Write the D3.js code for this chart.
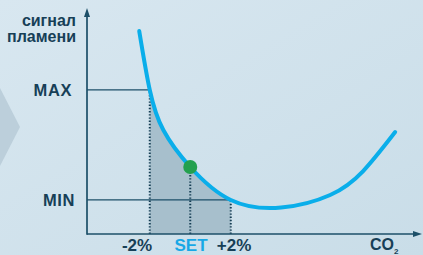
<!DOCTYPE html>
<html>
<head>
<meta charset="utf-8">
<script src="https://cdn.jsdelivr.net/npm/d3@7"></script>
<style>
  html, body { margin: 0; padding: 0; background: #d2e3ec; }
  svg { display: block; }
</style>
</head>
<body>
<div id="chart"></div>
<script>
// CO2 offset from the set point (%), and flame signal (arbitrary units)
var co2 = [-2.52, -2, -1.33, 0, 2, 4.49, 6.91, 8.54, 10.12];
var signal = [90.6, 64.3, 46.4, 29.9, 15.2, 11.8, 17.4, 28.1, 45.5];

var levelNames = ["MAX", "MIN"];
var levelValues = [64.3, 15.2];
var levelEnds = [-2, 2];          // where each level line meets the curve

var markNames = ["-2%", "SET", "+2%"];
var markValues = [-2, 0, 2];
var setPoint = 0;

var width = 423, height = 255;
var dark = "#1c4f68", textDark = "#173f57", blue = "#0aaeea";
var font = "'Liberation Sans', Arial, Helvetica, sans-serif";

var svg = d3.select("#chart").append("svg")
  .attr("width", width)
  .attr("height", height)
  .attr("font-family", font);

// background
var defs = svg.append("defs");
var grad = defs.append("linearGradient").attr("id", "bg")
  .attr("x1", "0").attr("y1", "0").attr("x2", "1").attr("y2", "1");
grad.append("stop").attr("offset", "0").attr("stop-color", "#d8e7f0");
grad.append("stop").attr("offset", "1").attr("stop-color", "#c9dde8");
svg.append("rect").attr("width", width).attr("height", height).attr("fill", "url(#bg)");
svg.append("polygon")
  .attr("points", "0,88 20,127 0,166")
  .attr("fill", "#bccfdb");

var x = d3.scaleLinear().domain([-5.1, 11.1]).range([87, 415]);
var y = d3.scaleLinear().domain([0, 100]).range([234, 10]);

var pts = co2.map(function(d, i) { return [d, signal[i]]; });
var line = d3.line()
  .x(function(d) { return x(d[0]); })
  .y(function(d) { return y(d[1]); })
  .curve(d3.curveNatural);
var area = d3.area()
  .x(function(d) { return x(d[0]); })
  .y0(y(0))
  .y1(function(d) { return y(d[1]); })
  .curve(d3.curveNatural);

// shaded band between -2% and +2%
defs.append("clipPath").attr("id", "band")
  .append("rect")
  .attr("x", x(markValues[0]))
  .attr("y", 0)
  .attr("width", x(markValues[2]) - x(markValues[0]))
  .attr("height", height);
svg.append("path")
  .datum(pts)
  .attr("d", area)
  .attr("clip-path", "url(#band)")
  .attr("fill", "#a7bfcc");

// curve value at a given CO2 (read from the drawn path)
var tmpPath = svg.append("path").datum(pts).attr("d", line).attr("fill", "none");
function curveY(v) {
  var node = tmpPath.node(), len = node.getTotalLength();
  var px = x(v), lo = 0, hi = len;
  for (var k = 0; k < 40; k++) {
    var mid = (lo + hi) / 2;
    if (node.getPointAtLength(mid).x < px) lo = mid; else hi = mid;
  }
  return node.getPointAtLength(lo).y;
}
tmpPath.remove();

// level lines (MAX / MIN)
levelNames.forEach(function(name, i) {
  svg.append("line")
    .attr("x1", x.range()[0]).attr("x2", x(levelEnds[i]))
    .attr("y1", y(levelValues[i])).attr("y2", y(levelValues[i]))
    .attr("stroke", dark).attr("stroke-width", 1.3);
  svg.append("text")
    .attr("x", i == 0 ? 72 : 75)
    .attr("y", y(levelValues[i]) + 6)
    .attr("text-anchor", "end")
    .attr("font-size", "16.5px").attr("font-weight", 700)
    .attr("letter-spacing", "0.6px")
    .attr("fill", textDark)
    .text(name);
});

// dotted verticals
markValues.forEach(function(v) {
  svg.append("line")
    .attr("x1", x(v)).attr("x2", x(v))
    .attr("y1", y(0)).attr("y2", curveY(v))
    .attr("stroke", "#163f55").attr("stroke-width", 2)
    .attr("stroke-dasharray", "1.4,1.8");
});

// axes with arrow heads
svg.append("line")
  .attr("x1", x.range()[0]).attr("x2", x.range()[0])
  .attr("y1", y(0) + 0.7).attr("y2", 14)
  .attr("stroke", dark).attr("stroke-width", 1.7);
svg.append("polygon")
  .attr("points", [[x.range()[0], 8], [x.range()[0] - 3, 17], [x.range()[0] + 3, 17]].join(" "))
  .attr("fill", dark);
svg.append("line")
  .attr("x1", x.range()[0]).attr("x2", 416)
  .attr("y1", y(0)).attr("y2", y(0))
  .attr("stroke", dark).attr("stroke-width", 1.7);
svg.append("polygon")
  .attr("points", [[422, y(0)], [413, y(0) - 3], [413, y(0) + 3]].join(" "))
  .attr("fill", dark);

// the curve
svg.append("path")
  .datum(pts)
  .attr("d", line)
  .attr("fill", "none")
  .attr("stroke", blue)
  .attr("stroke-width", 4)
  .attr("stroke-linecap", "round");

// set point
svg.append("circle")
  .attr("cx", x(setPoint))
  .attr("cy", curveY(setPoint))
  .attr("r", 7)
  .attr("fill", "#23a04e");

// axis labels
var yTitle = svg.append("text")
  .attr("text-anchor", "end")
  .attr("font-size", "16px").attr("font-weight", 700)
  .attr("fill", textDark);
yTitle.append("tspan").attr("x", 76).attr("y", 26).text("сигнал");
yTitle.append("tspan").attr("x", 76).attr("y", 42).text("пламени");

var markX = [137, 191, 234];
markNames.forEach(function(name, i) {
  svg.append("text")
    .attr("x", markX[i])
    .attr("y", 251)
    .attr("text-anchor", "middle")
    .attr("font-size", "17px").attr("font-weight", 700)
    .attr("fill", name == "SET" ? "#17a8e6" : textDark)
    .text(name);
});

var co = svg.append("text")
  .attr("x", 370).attr("y", 250)
  .attr("font-size", "16px").attr("font-weight", 700)
  .attr("fill", textDark);
co.append("tspan").text("CO");
co.append("tspan").attr("font-size", "8px").attr("dy", 4).text("2");
</script>
</body>
</html>
